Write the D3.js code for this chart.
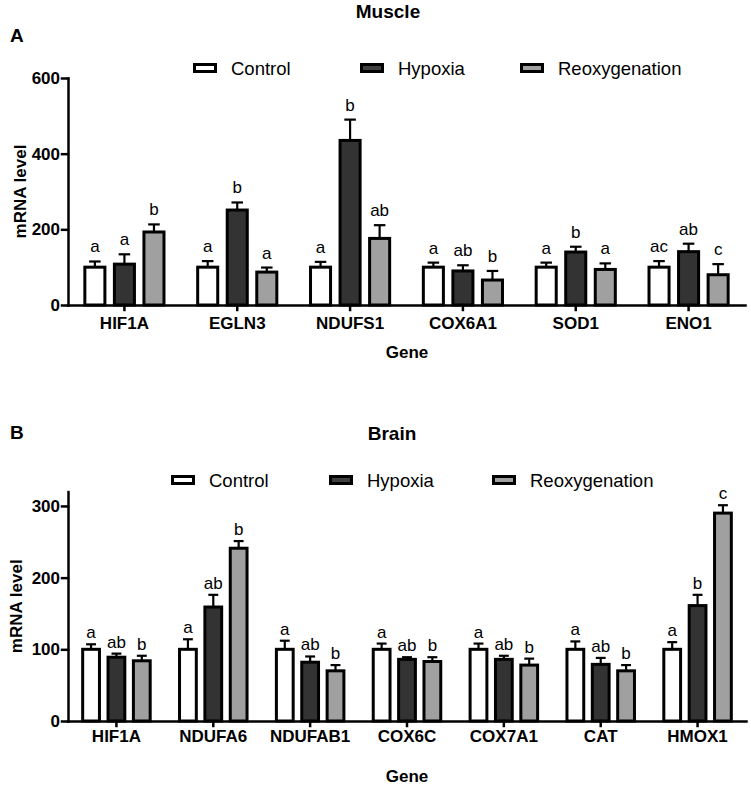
<!DOCTYPE html>
<head>
  <meta charset="utf-8">
  <script src="https://d3js.org/d3.v7.min.js"></script>
  <style>
    body { margin:0; background:#fff; }
    svg text { font-family: "Liberation Sans", Arial, sans-serif; fill:#000; }
  </style>
</head>
<body>
  <div id="figure"></div>
  <script>
    var groups = ["Control", "Hypoxia", "Reoxygenation"];
    var couleurs = ["#ffffff", "#333333", "#a0a0a0"];

    // Muscle (A)
    var muscleGenes = ["HIF1A", "EGLN3", "NDUFS1", "COX6A1", "SOD1", "ENO1"];
    var muscleControl = [100, 100, 100, 100, 100, 100];
    var muscleHypoxia = [108, 251, 435, 90, 140, 141];
    var muscleReox = [193, 87, 176, 66, 94, 80];
    var muscleControlSem = [15, 16, 14, 12, 12, 16];
    var muscleHypoxiaSem = [26, 20, 55, 15, 14, 21];
    var muscleReoxSem = [20, 12, 35, 24, 16, 28];
    var muscleControlLetters = ["a", "a", "a", "a", "a", "ac"];
    var muscleHypoxiaLetters = ["a", "b", "b", "ab", "b", "ab"];
    var muscleReoxLetters = ["b", "a", "ab", "b", "a", "c"];
    var muscleTicks = [0, 200, 400, 600];

    // Brain (B)
    var brainGenes = ["HIF1A", "NDUFA6", "NDUFAB1", "COX6C", "COX7A1", "CAT", "HMOX1"];
    var brainControl = [100, 100, 100, 100, 100, 100, 100];
    var brainHypoxia = [89, 159, 82, 86, 86, 79, 161];
    var brainReox = [84, 241, 70, 83, 78, 70, 290];
    var brainControlSem = [7, 14, 12, 8, 8, 11, 10];
    var brainHypoxiaSem = [5, 17, 8, 3, 5, 9, 15];
    var brainReoxSem = [7, 10, 8, 6, 9, 8, 11];
    var brainControlLetters = ["a", "a", "a", "a", "a", "a", "a"];
    var brainHypoxiaLetters = ["ab", "ab", "ab", "ab", "ab", "ab", "b"];
    var brainReoxLetters = ["b", "b", "b", "b", "b", "b", "c"];
    var brainTicks = [0, 100, 200, 300];

    var svg = d3.select("#figure").append("svg")
      .attr("width", 751)
      .attr("height", 789);

    svg.append("rect").attr("width", 751).attr("height", 789).style("fill", "#fff");

    function panel(p) {
      var g = svg.append("g");

      var x0 = d3.scaleBand().domain(p.genes).range([68, p.right]);
      var bw = x0.bandwidth();
      var x1 = d3.scaleBand().domain(groups)
        .range([0.136 * bw, 0.864 * bw])
        .paddingInner(0.22);
      var y = d3.scaleLinear().domain([0, p.ymax]).range([p.base, p.top]);

      var rows = [];
      p.genes.forEach(function(gene, i) {
        groups.forEach(function(grp, j) {
          rows.push({gene: gene, grp: grp, j: j,
            v: p.values[j][i], sem: p.sems[j][i], lettre: p.letters[j][i]});
        });
      });

      var cx = function(d) { return x0(d.gene) + x1(d.grp) + x1.bandwidth() / 2; };
      var capW = x1.bandwidth() * 0.5;

      // error bars (up only)
      g.selectAll(".err").data(rows).enter().append("line")
        .attr("x1", cx).attr("x2", cx)
        .attr("y1", function(d) { return y(d.v); })
        .attr("y2", function(d) { return y(d.v + d.sem); })
        .style("stroke", "#000").style("stroke-width", 2.2);
      g.selectAll(".cap").data(rows).enter().append("line")
        .attr("x1", function(d) { return cx(d) - capW / 2; })
        .attr("x2", function(d) { return cx(d) + capW / 2; })
        .attr("y1", function(d) { return y(d.v + d.sem); })
        .attr("y2", function(d) { return y(d.v + d.sem); })
        .style("stroke", "#000").style("stroke-width", 2.2);

      g.selectAll(".bar").data(rows).enter().append("rect")
        .attr("x", function(d) { return x0(d.gene) + x1(d.grp) + 1.5; })
        .attr("width", x1.bandwidth() - 3)
        .attr("y", function(d) { return y(d.v); })
        .attr("height", function(d) { return y(0) - y(d.v); })
        .style("fill", function(d) { return couleurs[d.j]; })
        .style("stroke", "#000").style("stroke-width", 3);

      g.selectAll(".lettre").data(rows).enter().append("text")
        .attr("x", cx)
        .attr("y", function(d) { return y(d.v + d.sem) - p.letterGap; })
        .attr("text-anchor", "middle")
        .style("font-size", "17px")
        .text(function(d) { return d.lettre; });

      var yAxis = d3.axisLeft(y).tickValues(p.ticks).tickSize(6).tickSizeOuter(0).tickPadding(2);
      var ya = g.append("g").attr("transform", "translate(68,0)").call(yAxis);
      ya.selectAll("text").style("font-size", "17px").style("font-weight", "bold");

      var xAxis = d3.axisBottom(x0).tickSize(5).tickSizeOuter(0).tickPadding(p.tickPad);
      var xa = g.append("g").attr("transform", "translate(0," + p.base + ")").call(xAxis);
      xa.selectAll("text").style("font-size", "17px").style("font-weight", "bold");

      g.selectAll(".domain, .tick line")
        .style("stroke", "#000").style("stroke-width", 2.5).style("stroke-linecap", "square");

      g.append("text")
        .attr("transform", "translate(" + p.ylabX + "," + ((p.base + p.top) / 2) + ") rotate(-90)")
        .attr("text-anchor", "middle")
        .style("font-size", "17px").style("font-weight", "bold")
        .text("mRNA level");

      g.append("text")
        .attr("x", 407).attr("y", p.geneY)
        .attr("text-anchor", "middle")
        .style("font-size", "17px").style("font-weight", "bold")
        .text("Gene");

      g.append("text")
        .attr("x", p.titleX).attr("y", p.titleY)
        .attr("text-anchor", "middle")
        .style("font-size", "19px").style("font-weight", "bold")
        .text(p.title);

      g.append("text")
        .attr("x", 10).attr("y", p.letterY)
        .style("font-size", "19px").style("font-weight", "bold")
        .text(p.panelLetter);

      var legend = g.selectAll(".legend").data(groups).enter().append("g")
        .attr("transform", function(d, i) { return "translate(" + p.legendX[i] + "," + p.legendY + ")"; });
      legend.append("rect")
        .attr("x", 1.5).attr("y", -3.5)
        .attr("width", 21).attr("height", 7)
        .style("fill", function(d, i) { return i == 1 ? "#404040" : couleurs[i]; })
        .style("stroke", "#000").style("stroke-width", 3);
      legend.append("text")
        .attr("x", 38).attr("dy", "0.36em")
        .style("font-size", "18.5px")
        .text(function(d) { return d; });
    }

    panel({
      genes: muscleGenes,
      values: [muscleControl, muscleHypoxia, muscleReox],
      sems: [muscleControlSem, muscleHypoxiaSem, muscleReoxSem],
      letters: [muscleControlLetters, muscleHypoxiaLetters, muscleReoxLetters],
      ticks: muscleTicks, ymax: 600,
      right: 745, base: 305, top: 78, tickPad: 7,
      letterGap: 9, ylabX: 26, geneY: 358,
      title: "Muscle", titleX: 388, titleY: 18,
      panelLetter: "A", letterY: 42,
      legendX: [193, 360, 520], legendY: 68
    });

    panel({
      genes: brainGenes,
      values: [brainControl, brainHypoxia, brainReox],
      sems: [brainControlSem, brainHypoxiaSem, brainReoxSem],
      letters: [brainControlLetters, brainHypoxiaLetters, brainReoxLetters],
      ticks: brainTicks, ymax: 320,
      right: 746, base: 721, top: 491.6, tickPad: 4,
      letterGap: 6, ylabX: 22, geneY: 782,
      title: "Brain", titleX: 392, titleY: 440,
      panelLetter: "B", letterY: 439,
      legendX: [171, 329, 492], legendY: 480
    });
  </script>
</body>
